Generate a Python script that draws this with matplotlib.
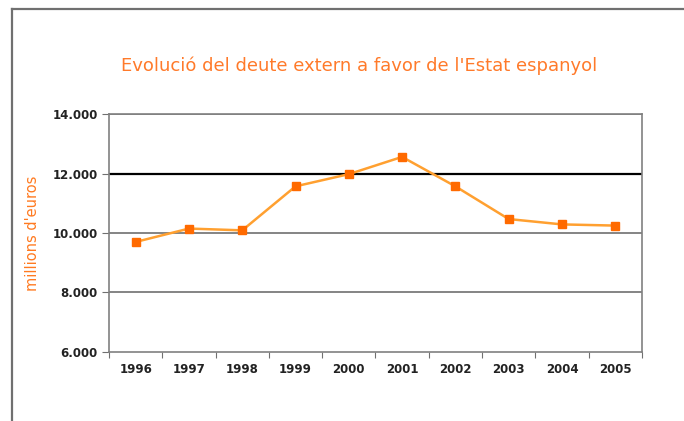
import matplotlib.pyplot as plt
from matplotlib.lines import Line2D
from matplotlib.ticker import FuncFormatter

anys = ["1996", "1997", "1998", "1999", "2000", "2001", "2002", "2003", "2004", "2005"]
deute = [9700, 10150, 10090, 11570, 11980, 12560, 11570, 10470, 10290, 10250]
y_ticks = [6000, 8000, 10000, 12000, 14000]

TITOL = "Evolució del deute extern a favor de l'Estat espanyol"
ETIQUETA_Y = "millions d'euros"


def format_milers(valor, pos):
    return f"{int(valor):,}".replace(",", ".")


fig = plt.figure(figsize=(6.84, 4.21), dpi=100)
ax = fig.add_axes([0.1594, 0.164, 0.779, 0.565])

# marc exterior (només esquerra i dalt)
fig.add_artist(Line2D([12 / 684, 12 / 684], [0, 1 - 9 / 421],
                      transform=fig.transFigure, color="#707070", lw=1.6))
fig.add_artist(Line2D([12 / 684, 1], [1 - 9 / 421, 1 - 9 / 421],
                      transform=fig.transFigure, color="#707070", lw=1.6))

x = list(range(len(anys)))

for valor in y_ticks[1:]:
    if valor == 12000:
        ax.axhline(valor, color="black", lw=1.6, zorder=1)
    else:
        ax.axhline(valor, color="#707070", lw=1.2, zorder=1)

ax.plot(x, deute, color="#FFA030", lw=1.8, zorder=3)
ax.plot(x, deute, linestyle="none", marker="s", markersize=6,
        color="#FF6A00", zorder=4)

ax.set_xlim(-0.5, len(anys) - 0.5)
ax.set_ylim(6000, 14000)
ax.set_yticks(y_ticks)
ax.yaxis.set_major_formatter(FuncFormatter(format_milers))

ax.set_xticks([i - 0.5 for i in range(len(anys) + 1)])
ax.set_xticklabels([])
ax.set_xticks(x, minor=True)
ax.set_xticklabels(anys, minor=True)
ax.tick_params(axis="x", which="minor", length=0, pad=8,
               labelsize=8.5, colors="#222222")
ax.tick_params(axis="x", which="major", length=4, direction="out",
               color="#707070")
ax.tick_params(axis="y", length=5, direction="out", color="#707070",
               labelsize=8.5, labelcolor="#222222", pad=3)

for label in ax.get_xticklabels(minor=True) + ax.get_yticklabels():
    label.set_fontweight("bold")

for spine in ax.spines.values():
    spine.set_color("#808080")
    spine.set_linewidth(1.2)

ax.set_ylabel(ETIQUETA_Y, color="#FF7A20", fontsize=10.5, labelpad=9)
fig.text(359 / 684, 1 - 66 / 421, TITOL, color="#FF7A2A",
         fontsize=13, ha="center", va="center")

plt.savefig("out.png", dpi=100)
